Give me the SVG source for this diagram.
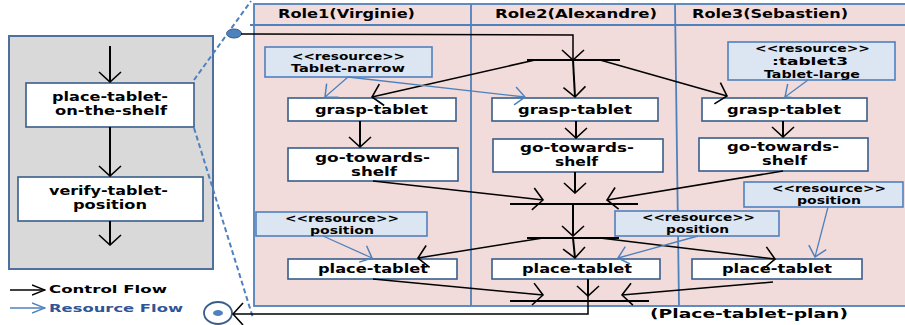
<svg xmlns="http://www.w3.org/2000/svg" width="905" height="325" viewBox="0 0 905 325">
<defs>
<style>
text{font-family:"DejaVu Sans","Liberation Sans",sans-serif;font-weight:bold;fill:#000;}
.t{font-size:12px;text-anchor:middle;}
.r{font-size:10px;text-anchor:middle;}
.node{fill:#fff;stroke:#385d8a;stroke-width:1.6;}
.res{fill:#dce6f2;stroke:#4f81bd;stroke-width:1.6;}
.cf{fill:none;stroke:#000;stroke-width:1.5;}
.cfv{fill:none;stroke:#000;stroke-width:2;}
.rf{fill:none;stroke:#4f81bd;stroke-width:1.3;}
.lane{stroke:#4f81bd;stroke-width:1.8;fill:none;}
.dash{stroke:#4f81bd;stroke-width:2;stroke-dasharray:5,3;fill:none;}
</style>
<marker id="ah" viewBox="0 0 12 24" refX="11" refY="12" markerWidth="12" markerHeight="24" markerUnits="userSpaceOnUse" orient="auto"><path d="M1,1 L11,12 L1,23" fill="none" stroke="#000" stroke-width="1.6"/></marker>
<marker id="bh" viewBox="0 0 12 20" refX="11" refY="10" markerWidth="12" markerHeight="20" markerUnits="userSpaceOnUse" orient="auto"><path d="M1,1 L11,10 L1,19" fill="none" stroke="#4f81bd" stroke-width="1.5"/></marker>
<marker id="lb" viewBox="0 0 14 12" refX="13" refY="6" markerWidth="14" markerHeight="12" markerUnits="userSpaceOnUse" orient="auto"><path d="M0,1 L13,6 L0,11" fill="none" stroke="#000" stroke-width="1.4"/></marker>
<marker id="lbb" viewBox="0 0 14 12" refX="13" refY="6" markerWidth="14" markerHeight="12" markerUnits="userSpaceOnUse" orient="auto"><path d="M0,1 L13,6 L0,11" fill="none" stroke="#4f81bd" stroke-width="1.4"/></marker>
</defs>
<rect width="905" height="325" fill="#fff"/>

<!-- Left panel -->
<g id="parent-activity">
<rect x="9" y="36" width="204" height="233" fill="#d9d9d9" stroke="#4f6f9f" stroke-width="2"/>
</g>
<g id="place-tablet-on-the-shelf">
<rect class="node" x="26" y="83" width="168" height="44"/>
<text class="t" x="110" y="101" textLength="116" lengthAdjust="spacingAndGlyphs">place-tablet-</text>
<text class="t" x="111" y="115" textLength="112" lengthAdjust="spacingAndGlyphs">on-the-shelf</text>
</g>
<g id="verify-tablet-position">
<rect class="node" x="18" y="177" width="185" height="44"/>
<text class="t" x="108.5" y="195" textLength="119" lengthAdjust="spacingAndGlyphs">verify-tablet-</text>
<text class="t" x="110" y="209" textLength="74" lengthAdjust="spacingAndGlyphs">position</text>
</g>

<!-- Plan -->
<g id="plan">
<rect x="254" y="4" width="655" height="302" fill="#f2dcdb" stroke="#4f81bd" stroke-width="1.8"/>
<line class="lane" x1="250" y1="25" x2="905" y2="25"/>
<line class="lane" x1="471" y1="4" x2="471" y2="306"/>
<line class="lane" x1="675" y1="4" x2="679" y2="306"/>
<text x="346.5" y="18" font-size="12" text-anchor="middle" textLength="137" lengthAdjust="spacingAndGlyphs">Role1(Virginie)</text>
<text x="576" y="18" font-size="12" text-anchor="middle" textLength="162" lengthAdjust="spacingAndGlyphs">Role2(Alexandre)</text>
<text x="770" y="18" font-size="12" text-anchor="middle" textLength="156" lengthAdjust="spacingAndGlyphs">Role3(Sebastien)</text>
<text x="650" y="318" font-size="13" textLength="198" lengthAdjust="spacingAndGlyphs">(Place-tablet-plan)</text>
</g>

<g id="initial-node">
<ellipse cx="234" cy="33.5" rx="7.5" ry="4.5" fill="#4f81bd" stroke="#385d8a" stroke-width="1"/>
</g>
<g id="final-node">
<ellipse cx="218" cy="313" rx="14" ry="11" fill="#fff" stroke="#385d8a" stroke-width="1.8"/>
<ellipse cx="218" cy="313" rx="5" ry="3" fill="#4f81bd"/>
</g>

<g id="res-tablet-narrow">
<rect class="res" x="265" y="47" width="167" height="30"/>
<text class="r" x="348.5" y="60" textLength="113" lengthAdjust="spacingAndGlyphs">&lt;&lt;resource&gt;&gt;</text>
<text class="r" x="348" y="72" textLength="114" lengthAdjust="spacingAndGlyphs">Tablet-narrow</text>
</g>
<g id="res-tablet3">
<rect class="res" x="728" y="42" width="167" height="38"/>
<text class="r" x="812.5" y="52" textLength="115" lengthAdjust="spacingAndGlyphs">&lt;&lt;resource&gt;&gt;</text>
<text class="r" x="810" y="65" font-size="12" textLength="76" lengthAdjust="spacingAndGlyphs">:tablet3</text>
<text class="r" x="812" y="77.5" textLength="96" lengthAdjust="spacingAndGlyphs">Tablet-large</text>
</g>
<g id="res-position-1">
<rect class="res" x="256" y="212" width="171" height="24"/>
<text class="r" x="342" y="222" textLength="114" lengthAdjust="spacingAndGlyphs">&lt;&lt;resource&gt;&gt;</text>
<text class="r" x="342" y="234" textLength="64" lengthAdjust="spacingAndGlyphs">position</text>
</g>
<g id="res-position-2">
<rect class="res" x="615" y="211" width="164" height="25"/>
<text class="r" x="698.5" y="221" textLength="113" lengthAdjust="spacingAndGlyphs">&lt;&lt;resource&gt;&gt;</text>
<text class="r" x="697.5" y="233" textLength="63" lengthAdjust="spacingAndGlyphs">position</text>
</g>
<g id="res-position-3">
<rect class="res" x="744" y="182" width="159" height="25"/>
<text class="r" x="829" y="192" textLength="114" lengthAdjust="spacingAndGlyphs">&lt;&lt;resource&gt;&gt;</text>
<text class="r" x="829" y="204" textLength="64" lengthAdjust="spacingAndGlyphs">position</text>
</g>

<g id="grasp-tablet-1">
<rect class="node" x="288" y="98" width="168" height="23"/>
<text class="t" x="371.5" y="114" textLength="113" lengthAdjust="spacingAndGlyphs">grasp-tablet</text>
</g>
<g id="grasp-tablet-2">
<rect class="node" x="492" y="98" width="166" height="23"/>
<text class="t" x="575" y="114" textLength="114" lengthAdjust="spacingAndGlyphs">grasp-tablet</text>
</g>
<g id="grasp-tablet-3">
<rect class="node" x="702" y="98" width="165" height="23"/>
<text class="t" x="784" y="114" textLength="114" lengthAdjust="spacingAndGlyphs">grasp-tablet</text>
</g>
<g id="go-towards-shelf-1">
<rect class="node" x="288" y="148" width="170" height="33"/>
<text class="t" x="372.5" y="162" textLength="115" lengthAdjust="spacingAndGlyphs">go-towards-</text>
<text class="t" x="374" y="176" textLength="46" lengthAdjust="spacingAndGlyphs">shelf</text>
</g>
<g id="go-towards-shelf-2">
<rect class="node" x="493" y="139" width="170" height="33"/>
<text class="t" x="577" y="152" textLength="114" lengthAdjust="spacingAndGlyphs">go-towards-</text>
<text class="t" x="576.5" y="166" textLength="43" lengthAdjust="spacingAndGlyphs">shelf</text>
</g>
<g id="go-towards-shelf-3">
<rect class="node" x="699" y="138" width="169" height="33"/>
<text class="t" x="783" y="151" textLength="112" lengthAdjust="spacingAndGlyphs">go-towards-</text>
<text class="t" x="784.5" y="165" textLength="45" lengthAdjust="spacingAndGlyphs">shelf</text>
</g>
<g id="place-tablet-1">
<rect class="node" x="288" y="259" width="169" height="20"/>
<text class="t" x="373" y="273" textLength="110" lengthAdjust="spacingAndGlyphs">place-tablet</text>
</g>
<g id="place-tablet-2">
<rect class="node" x="492" y="259" width="168" height="20"/>
<text class="t" x="577" y="273" textLength="110" lengthAdjust="spacingAndGlyphs">place-tablet</text>
</g>
<g id="place-tablet-3">
<rect class="node" x="692" y="259" width="170" height="20"/>
<text class="t" x="777" y="273" textLength="110" lengthAdjust="spacingAndGlyphs">place-tablet</text>
</g>

<g id="legend">
<line x1="10" y1="290" x2="45" y2="290" stroke="#000" stroke-width="1.4" marker-end="url(#lb)"/>
<line x1="10" y1="308" x2="45" y2="308" stroke="#4f81bd" stroke-width="1.4" marker-end="url(#lbb)"/>
<text x="49" y="293" font-size="11" textLength="118" lengthAdjust="spacingAndGlyphs">Control Flow</text>
<text x="49" y="312" font-size="11" style="fill:#2f5597" textLength="134" lengthAdjust="spacingAndGlyphs">Resource Flow</text>
</g>

<g id="connectors">
<line class="dash" x1="194" y1="80" x2="251" y2="1"/>
<line class="dash" x1="194" y1="128" x2="253" y2="318"/>
<line class="cfv" x1="110" y1="46" x2="110" y2="82" marker-end="url(#ah)"/>
<line class="cfv" x1="110" y1="127" x2="110" y2="176" marker-end="url(#ah)"/>
<line class="cfv" x1="110" y1="221" x2="110" y2="245" marker-end="url(#ah)"/>
<polyline class="cf" points="241,34 573,35 573,60" marker-end="url(#ah)"/>
<line x1="527" y1="60" x2="620" y2="60" stroke="#000" stroke-width="1.8"/>
<line class="cf" x1="535" y1="60" x2="372" y2="97" marker-end="url(#ah)"/>
<line class="cfv" x1="573" y1="60" x2="575" y2="97" marker-end="url(#ah)"/>
<line class="cf" x1="600" y1="60" x2="727" y2="96" marker-end="url(#ah)"/>
<line class="cfv" x1="360" y1="121" x2="360" y2="147" marker-end="url(#ah)"/>
<line class="cfv" x1="576" y1="121" x2="576" y2="138" marker-end="url(#ah)"/>
<line class="cfv" x1="783" y1="121" x2="783" y2="137" marker-end="url(#ah)"/>
<line x1="510" y1="204" x2="638" y2="204" stroke="#000" stroke-width="1.8"/>
<line class="cf" x1="373" y1="181" x2="543" y2="200" marker-end="url(#ah)"/>
<line class="cfv" x1="575" y1="172" x2="575" y2="193" marker-end="url(#ah)"/>
<line class="cf" x1="783" y1="171" x2="607" y2="200" marker-end="url(#ah)"/>
<line class="cfv" x1="573" y1="204" x2="573" y2="236" marker-end="url(#ah)"/>
<line x1="527" y1="238" x2="619" y2="238" stroke="#000" stroke-width="1.8"/>
<line class="cf" x1="543" y1="238" x2="418" y2="258" marker-end="url(#ah)"/>
<line class="cfv" x1="573" y1="238" x2="575" y2="258" marker-end="url(#ah)"/>
<line class="cf" x1="600" y1="238" x2="775" y2="259" marker-end="url(#ah)"/>
<line x1="510" y1="301" x2="649" y2="301" stroke="#000" stroke-width="1.8"/>
<line class="cf" x1="373" y1="279" x2="543" y2="295" marker-end="url(#ah)"/>
<line class="cf" x1="773" y1="282" x2="622" y2="295" marker-end="url(#ah)"/>
<line class="cfv" x1="588" y1="279" x2="588" y2="296" marker-end="url(#ah)"/>
<polyline class="cf" points="588,296 588,314 233,314" marker-end="url(#ah)"/>
<line class="rf" x1="348" y1="77" x2="325" y2="97" marker-end="url(#bh)"/>
<line class="rf" x1="348" y1="77" x2="525" y2="97" marker-end="url(#bh)"/>
<line class="rf" x1="808" y1="80" x2="785" y2="97" marker-end="url(#bh)"/>
<line class="rf" x1="323" y1="236" x2="372" y2="258" marker-end="url(#bh)"/>
<line class="rf" x1="698" y1="236" x2="618" y2="258" marker-end="url(#bh)"/>
<line class="rf" x1="828" y1="207" x2="815" y2="257" stroke-width="1.8" marker-end="url(#bh)"/>
</g>
</svg>
